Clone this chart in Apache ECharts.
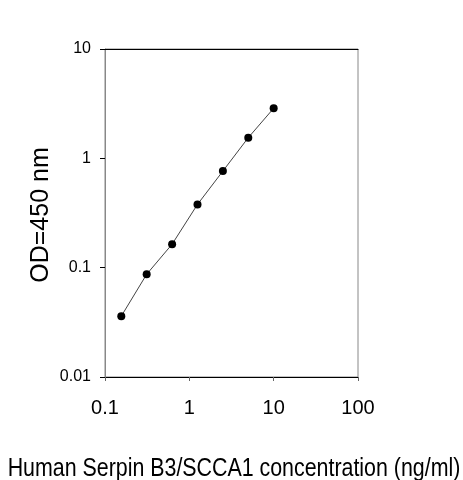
<!DOCTYPE html>
<html>
<head>
<meta charset="utf-8">
<script src="https://cdn.jsdelivr.net/npm/echarts@6/dist/echarts.min.js"></script>
<style>
  html, body { margin: 0; padding: 0; background: #fff; }
  #main { width: 463px; height: 480px; }
</style>
</head>
<body>
<div id="main"></div>
<script>
// standard curve readings
var concentration = [0.156, 0.312, 0.625, 1.25, 2.5, 5, 10]; // ng/ml
var odValues = [0.036, 0.087, 0.164, 0.379, 0.765, 1.545, 2.87]; // OD 450
var xTitle = 'Human Serpin B3/SCCA1 concentration (ng/ml)';
var yTitle = 'OD=450 nm';

var font = '"Liberation Sans", Arial, sans-serif';

var points = [];
for (var i = 0; i < concentration.length; i++) {
    points.push([concentration[i], odValues[i]]);
}

var myChart = echarts.init(document.getElementById('main'));
var option = {
    animation: false,
    backgroundColor: '#fff',
    grid: {
        left: 105, right: 105, top: 49, bottom: 103,
        show: true, borderColor: '#888', borderWidth: 1
    },
    xAxis: [{
        type: 'log', logBase: 10, min: 0.1, max: 100,
        position: 'bottom',
        axisLine: { show: true, lineStyle: { color: '#000', width: 1 } },
        axisTick: { show: true, length: 4, inside: false, lineStyle: { color: '#666' } },
        axisLabel: { color: '#000', fontSize: 20, fontFamily: font, margin: 21 },
        splitLine: { show: false },
        minorTick: { show: false }
    }, {
        type: 'log', logBase: 10, min: 0.1, max: 100,
        position: 'top',
        axisLine: { show: true, lineStyle: { color: '#000', width: 1 } },
        axisTick: { show: false },
        axisLabel: { show: false },
        splitLine: { show: false }
    }],
    yAxis: [{
        type: 'log', logBase: 10, min: 0.01, max: 10,
        axisLine: { show: true, lineStyle: { color: '#888', width: 1 } },
        axisTick: { show: true, length: 5, lineStyle: { color: '#000' } },
        axisLabel: { color: '#000', fontSize: 16, fontFamily: font, margin: 14 },
        splitLine: { show: false }
    }],
    graphic: [{
        type: 'text',
        x: 234, y: 469,
        scaleX: 0.855,
        style: { text: xTitle, fill: '#000', font: '25px ' + font, align: 'center', verticalAlign: 'middle' }
    }, {
        type: 'text',
        x: 41, y: 215,
        rotation: Math.PI / 2,
        style: { text: yTitle, fill: '#000', font: '25px ' + font, align: 'center', verticalAlign: 'middle' }
    }],
    series: [{
        type: 'line',
        data: points,
        symbol: 'circle',
        symbolSize: 8,
        itemStyle: { color: '#000' },
        lineStyle: { color: '#444', width: 1 }
    }]
};
myChart.setOption(option);
</script>
</body>
</html>
